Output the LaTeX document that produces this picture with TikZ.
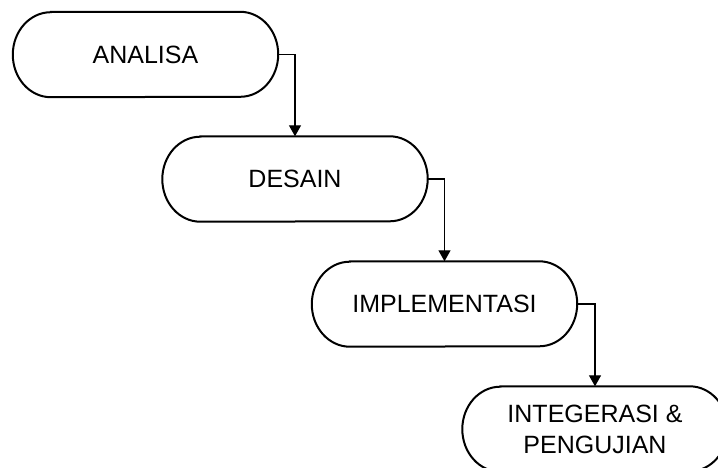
\documentclass[tikz,border=0pt]{standalone}
\usepackage{fontspec}
\setmainfont{Liberation Sans}
\usetikzlibrary{arrows.meta}
\begin{document}
\begin{tikzpicture}[x=1pt,y=-1pt,
  phase/.style={minimum width=265pt, minimum height=85pt, inner sep=0pt, align=center, font=\fontsize{25}{31}\selectfont},
  outline/.style={draw=black, line width=2pt},
  flow/.style={line width=1.3pt, -{Triangle[length=11pt,width=12pt]}}]
\useasboundingbox (0,0) rectangle (718,468);
\clip (0,0) rectangle (718,468);
\fill[white] (0,0) rectangle (718,468);
\node[phase] (a) at (145.5,54.5) {ANALISA};
\node[phase] (b) at (295,179) {DESAIN};
\node[phase] (c) at (444.5,304) {IMPLEMENTASI};
\node[phase] (d) at (595,429) {INTEGERASI \&\\PENGUJIAN};
\foreach \n in {a,b,c,d}
  \draw[outline] ([xshift=38pt]\n.north west) -- ([xshift=-38pt]\n.north east)
    arc[start angle=90,end angle=-90,x radius=38pt,y radius=42.5pt]
    -- ([xshift=38pt]\n.south west)
    arc[start angle=270,end angle=90,x radius=38pt,y radius=42.5pt] -- cycle;
\draw[flow] (a.east) -| (b.north);
\draw[flow] (b.east) -| (c.north);
\draw[flow] (c.east) -| (d.north);
\end{tikzpicture}
\end{document}
